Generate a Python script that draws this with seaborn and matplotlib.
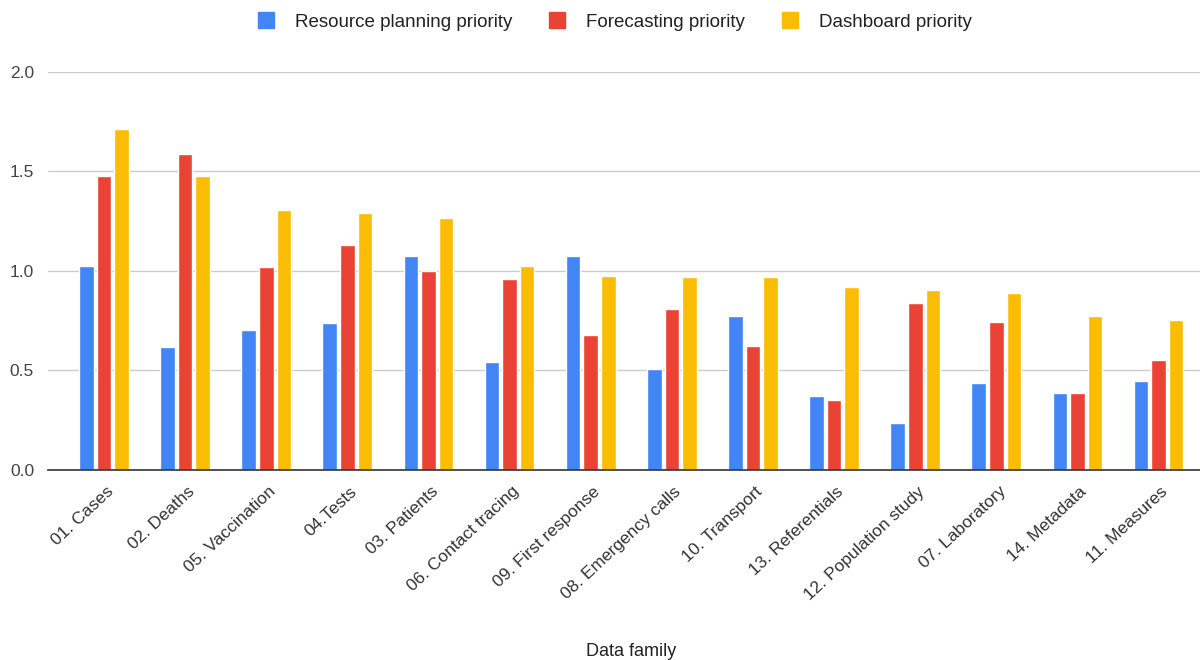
import matplotlib
matplotlib.use("Agg")
import matplotlib.pyplot as plt
import matplotlib.transforms as mtransforms
import seaborn as sns
import pandas as pd
from matplotlib.lines import Line2D

categories = ["01. Cases", "02. Deaths", "05. Vaccination", "04.Tests", "03. Patients",
              "06. Contact tracing", "09. First response", "08. Emergency calls",
              "10. Transport", "13. Referentials", "12. Population study",
              "07. Laboratory", "14. Metadata", "11. Measures"]
resource_planning = [1.025, 0.616, 0.703, 0.737, 1.074, 0.542, 1.074, 0.508, 0.775, 0.372, 0.237, 0.438, 0.389, 0.445]
forecasting = [1.476, 1.590, 1.018, 1.131, 1.002, 0.961, 0.680, 0.809, 0.622, 0.349, 0.841, 0.743, 0.389, 0.550]
dashboard = [1.711, 1.476, 1.307, 1.292, 1.268, 1.025, 0.977, 0.968, 0.968, 0.921, 0.904, 0.888, 0.775, 0.752]
series_names = ["Resource planning priority", "Forecasting priority", "Dashboard priority"]
colors = ["#4285F4", "#EA4335", "#FBBC04"]

rows = []
for name, vals in zip(series_names, [resource_planning, forecasting, dashboard]):
    for c, v in zip(categories, vals):
        rows.append({"family": c, "series": name, "value": v})
df = pd.DataFrame(rows)

sns.set_theme(style="white")
plt.rcParams['font.family'] = ['Liberation Sans', 'DejaVu Sans']

fig = plt.figure(figsize=(12, 6.6), dpi=100)
ax = fig.add_axes([0.04, 0.288, 0.96, 0.603])

sns.barplot(data=df, x="family", y="value", hue="series", order=categories,
            hue_order=series_names, palette=colors, width=0.65, gap=0.17,
            saturation=1, ax=ax, legend=False, errorbar=None)

ax.set_ylim(0, 2.0)
ax.set_xlim(-0.69, 13.51)
ax.set_yticks([0, 0.5, 1.0, 1.5, 2.0])
ax.set_yticklabels(["0.0", "0.5", "1.0", "1.5", "2.0"], fontsize=12.5, color="#444444")
ax.yaxis.grid(True, color="#cccccc", linewidth=1)
ax.set_axisbelow(True)
for s in ["top", "right", "left"]:
    ax.spines[s].set_visible(False)
ax.spines["bottom"].set_color("#333333")
ax.spines["bottom"].set_linewidth(1.2)
ax.tick_params(axis="y", length=0, pad=10)
ax.tick_params(axis="x", length=0, pad=10)
ax.set_xticks(range(len(categories)))
ax.set_xticklabels(categories, rotation=43, ha="right", rotation_mode="anchor",
                   fontsize=12.5, color="#333333")
offset = mtransforms.ScaledTranslation(2 / 100, 0, fig.dpi_scale_trans)
for lbl in ax.get_xticklabels():
    lbl.set_transform(lbl.get_transform() + offset)
ax.set_ylabel("")
ax.set_xlabel("")
fig.text(0.526, 0.0, "Data family", ha="center", va="bottom", fontsize=13, color="#222222")

handles = [Line2D([0], [0], marker="s", linestyle="none", markersize=11,
                  markerfacecolor=c, markeredgecolor=c) for c in colors]
fig.legend(handles, series_names, loc="center", bbox_to_anchor=(0.508, 0.966),
           ncol=3, frameon=False, fontsize=13.5, handletextpad=0.55, columnspacing=1.4,
           labelcolor="#222222")

fig.savefig("out.png", dpi=100)
